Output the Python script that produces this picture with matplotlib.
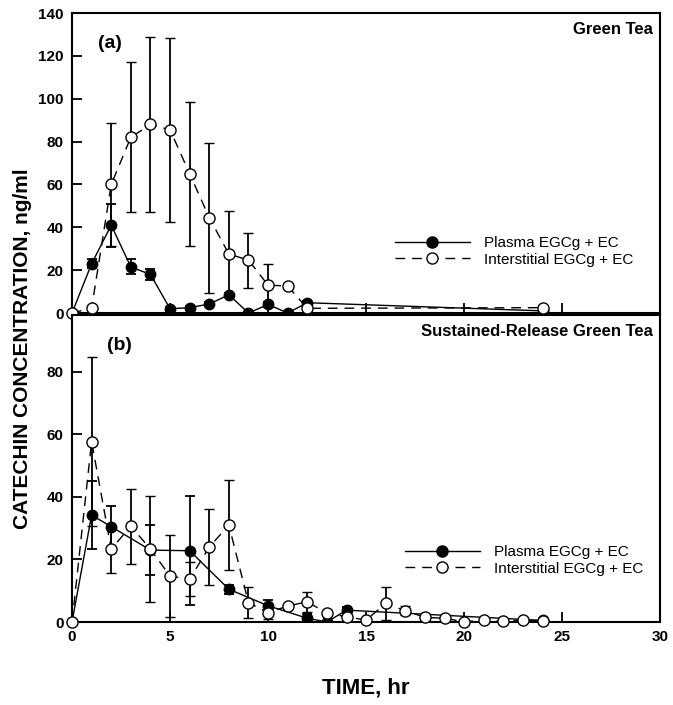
import matplotlib
matplotlib.use('Agg')
import matplotlib.pyplot as plt
from matplotlib import font_manager
from matplotlib.lines import Line2D

# font: condensed bold for axis titles if available
names = {f.name for f in font_manager.fontManager.ttflist}
narrow = 'Liberation Sans Narrow' if 'Liberation Sans Narrow' in names else 'Liberation Sans'
plt.rcParams['font.family'] = ['Liberation Sans', 'DejaVu Sans']

# --- (a) Green Tea ---
a_plasma_t = [0, 1, 2, 3, 4, 5, 6, 7, 8, 9, 10, 11, 12, 24]
a_plasma = [0, 23, 41, 21.5, 18, 2, 2.5, 4.2, 8.5, 0, 4, 0, 4.8, 1]
a_plasma_err = [0, 2, 10, 3.5, 2.5, 1, 1, 1, 1, 0, 1, 0, 1, 0]

a_inter_t = [0, 1, 2, 3, 4, 5, 6, 7, 8, 9, 10, 11, 12, 24]
a_inter = [0, 2.3, 60, 82, 88, 85.5, 65, 44.5, 27.5, 24.7, 13, 12.6, 2.2, 2.5]
a_inter_err = [0, 0, 28.5, 35, 41, 43, 33.5, 35, 20, 12.8, 10, 0, 0, 0]

# --- (b) Sustained-Release Green Tea ---
b_plasma_t = [0, 1, 2, 4, 6, 8, 10, 12, 13, 14, 24]
b_plasma = [0, 34.2, 30.5, 23, 22.8, 10.5, 5.2, 1.2, 0, 3.8, 0.5]
b_plasma_err = [0, 11, 6.5, 8, 17.5, 1.5, 2, 1.5, 0, 1, 0]

b_inter_t = list(range(0, 25))
b_inter = [0, 57.7, 23.3, 30.7, 23.3, 14.7, 13.7, 24, 31, 6.2, 3, 5.1, 6.5,
           2.8, 1.7, 0.6, 6, 3.6, 1.5, 1.2, 0.1, 0.6, 0.3, 0.6, 0.4]
b_inter_err = [0, 27, 7.5, 12, 17, 13, 5.5, 12, 14.5, 5, 2, 0, 3.2,
               1, 0, 0, 5.2, 1.5, 0, 0, 0, 0, 0, 0, 0]

xticks = [0, 5, 10, 15, 20, 25, 30]
labels = ['Plasma EGCg + EC', 'Interstitial EGCg + EC']

fig = plt.figure(figsize=(6.73, 7.05), dpi=100)
ax1 = fig.add_axes([0.107, 0.556, 0.874, 0.4255])
ax2 = fig.add_axes([0.107, 0.1177, 0.874, 0.4355])

handles = [
    Line2D([], [], color='black', lw=1.0, marker='o', ms=8,
           mfc='black', mec='black'),
    Line2D([], [], color='black', lw=1.0, ls=(0, (7, 5)), marker='o',
           ms=8, mfc='white', mec='black'),
]


def draw(ax, pt, pv, pe, it, iv, ie):
    ax.errorbar(pt, pv, yerr=pe, color='black', lw=1.0, marker='o',
                ms=7.5, mfc='black', mec='black', ecolor='black',
                elinewidth=1.3, capsize=3.5, capthick=1.3, zorder=3)
    ax.errorbar(it, iv, yerr=ie, color='black', lw=1.0, ls=(0, (7, 5)),
                marker='o', ms=8, mfc='white', mec='black', mew=1.0,
                ecolor='black', elinewidth=1.3, capsize=3.5, capthick=1.3,
                zorder=4, clip_on=False)
    ax.set_xlim(0, 30)
    ax.set_xticks(xticks)
    ax.tick_params(direction='in', length=7, width=1.3, labelsize=11,
                   pad=6)
    for sp in ax.spines.values():
        sp.set_linewidth(1.5)


draw(ax1, a_plasma_t, a_plasma, a_plasma_err,
     a_inter_t, a_inter, a_inter_err)
ax1.set_ylim(0, 140)
ax1.set_yticks(range(0, 141, 20))
ax1.tick_params(labelbottom=False)
for lab in ax1.get_yticklabels():
    lab.set_fontweight('bold')
ax1.text(0.988, 0.945, 'Green Tea', transform=ax1.transAxes,
         ha='right', va='center', fontsize=12, fontweight='bold')
ax1.text(0.045, 0.9, '(a)', transform=ax1.transAxes,
         ha='left', va='center', fontsize=14, fontweight='bold')
ax1.legend(handles, labels, loc='center left',
           bbox_to_anchor=(0.549, 0.205), frameon=False, fontsize=11,
           handlelength=4.9, handletextpad=0.95, labelspacing=0.15,
           borderpad=0, borderaxespad=0)

draw(ax2, b_plasma_t, b_plasma, b_plasma_err,
     b_inter_t, b_inter, b_inter_err)
ax2.set_ylim(0, 98.2)
ax2.set_yticks(range(0, 81, 20))
for lab in ax2.get_xticklabels() + ax2.get_yticklabels():
    lab.set_fontweight('bold')
ax2.text(0.988, 0.945, 'Sustained-Release Green Tea',
         transform=ax2.transAxes, ha='right', va='center',
         fontsize=12, fontweight='bold')
ax2.text(0.06, 0.9, '(b)', transform=ax2.transAxes,
         ha='left', va='center', fontsize=14, fontweight='bold')
ax2.legend(handles, labels, loc='center left',
           bbox_to_anchor=(0.566, 0.2), frameon=False, fontsize=11,
           handlelength=4.9, handletextpad=0.95, labelspacing=0.15,
           borderpad=0, borderaxespad=0)

fig.text(0.544, 0.024, 'TIME, hr', ha='center', va='center',
         fontsize=16, fontweight='bold', family=narrow)
fig.text(0.033, 0.505, 'CATECHIN CONCENTRATION, ng/ml', ha='center',
         va='center', rotation=90, fontsize=15, fontweight='bold',
         family=narrow)

fig.savefig('out.png', dpi=100)
